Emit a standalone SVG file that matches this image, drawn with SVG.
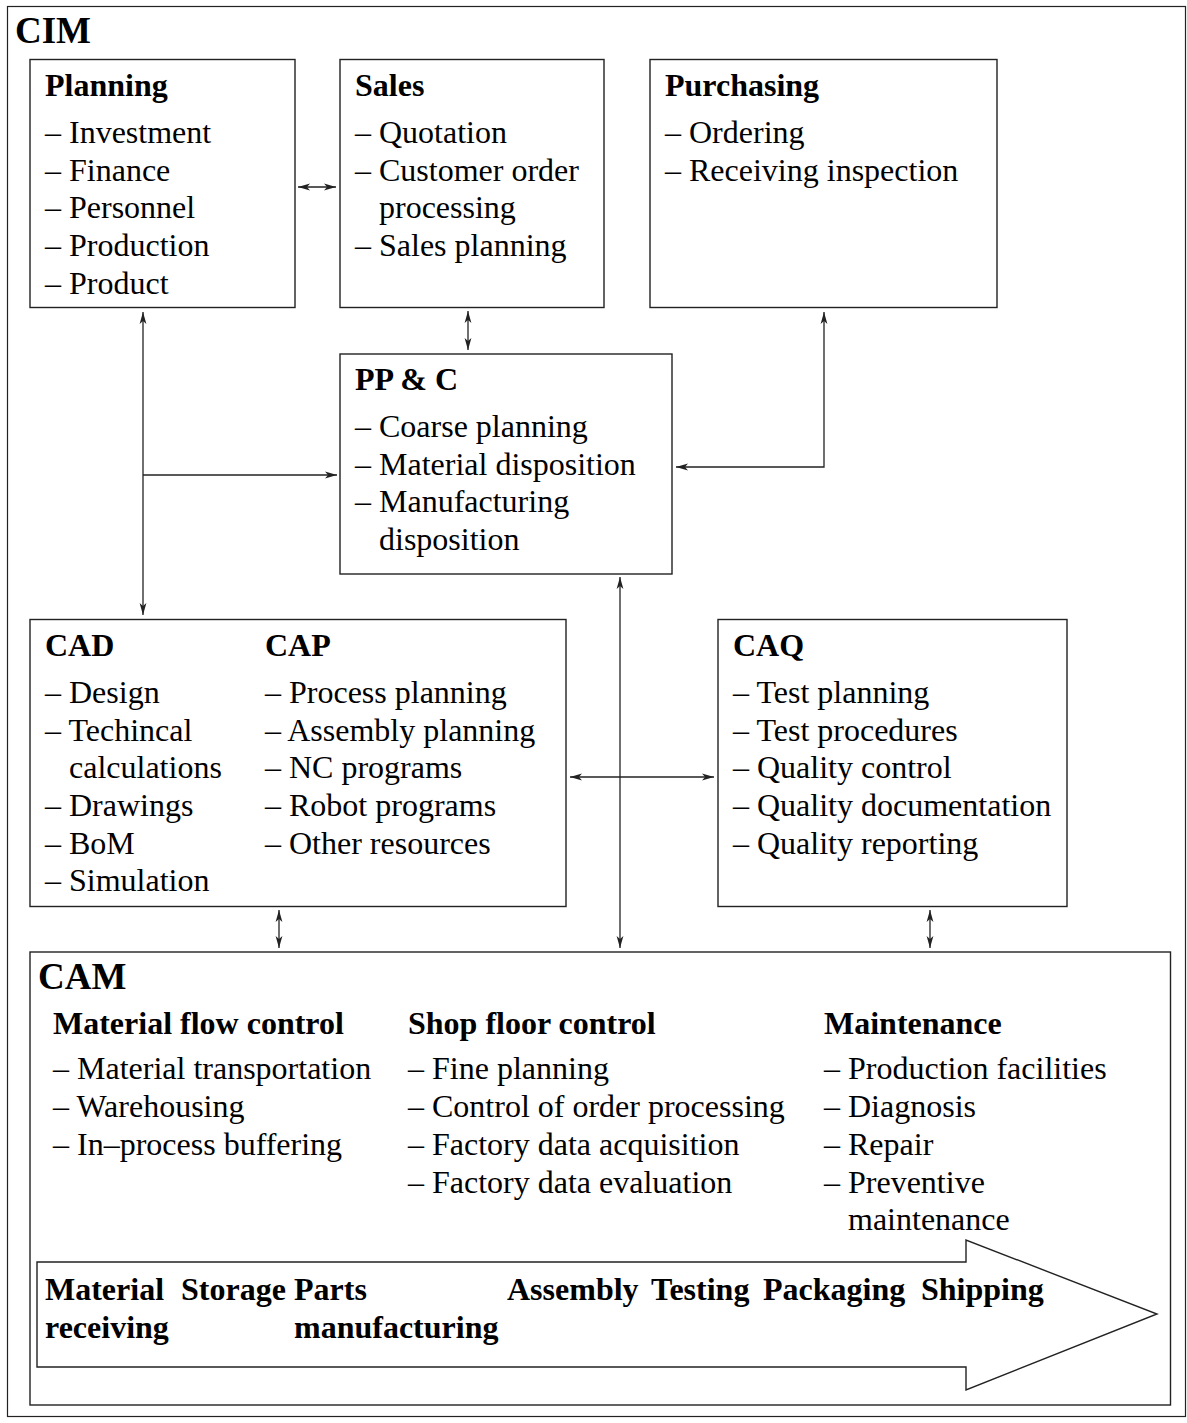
<svg xmlns="http://www.w3.org/2000/svg" width="1187" height="1423" viewBox="0 0 1187 1423">
<style>
  .box { fill: #fff; stroke: #222; stroke-width: 1.4; }
  .frame { fill: #fff; stroke: #222; stroke-width: 1.2; }
  .t { font-family: "Liberation Serif", "Times New Roman", serif; font-size: 32px; fill: #000; }
  .b { font-family: "Liberation Serif", "Times New Roman", serif; font-size: 32px; font-weight: bold; fill: #000; }
  .big { font-family: "Liberation Serif", "Times New Roman", serif; font-size: 37px; font-weight: bold; fill: #000; }
  .c { fill: none; stroke: #222; stroke-width: 1.3; }
</style>
<defs>
  <marker id="ah" viewBox="0 0 12 8" refX="12" refY="4" markerWidth="12" markerHeight="8" markerUnits="userSpaceOnUse" orient="auto-start-reverse">
    <path d="M12,4 L0,0.6 L3,4 L0,7.4 z" fill="#222"/>
  </marker>
</defs>
<rect width="1187" height="1423" fill="#fff"/>
<g id="cim">
  <rect class="frame" x="7.5" y="6.5" width="1178" height="1410"/>
  <text class="big" x="15" y="43">CIM</text>
</g>
<g id="planning">
  <rect class="box" x="30" y="59.5" width="265" height="248"/>
  <text class="b" x="45" y="96">Planning</text>
  <text class="t" x="45" y="143">– Investment</text>
  <text class="t" x="45" y="181">– Finance</text>
  <text class="t" x="45" y="218">– Personnel</text>
  <text class="t" x="45" y="256">– Production</text>
  <text class="t" x="45" y="294">– Product</text>
</g>
<g id="sales">
  <rect class="box" x="340" y="59.5" width="264" height="248"/>
  <text class="b" x="355" y="96">Sales</text>
  <text class="t" x="355" y="143">– Quotation</text>
  <text class="t" x="355" y="181">– Customer order</text>
  <text class="t" x="379" y="218">processing</text>
  <text class="t" x="355" y="256">– Sales planning</text>
</g>
<g id="purchasing">
  <rect class="box" x="650" y="59.5" width="347" height="248"/>
  <text class="b" x="665" y="96">Purchasing</text>
  <text class="t" x="665" y="143">– Ordering</text>
  <text class="t" x="665" y="181">– Receiving inspection</text>
</g>
<g id="ppc">
  <rect class="box" x="340" y="354" width="332" height="220"/>
  <text class="b" x="355" y="390">PP &amp; C</text>
  <text class="t" x="355" y="437">– Coarse planning</text>
  <text class="t" x="355" y="475">– Material disposition</text>
  <text class="t" x="355" y="512">– Manufacturing</text>
  <text class="t" x="379" y="550">disposition</text>
</g>
<g id="cadcap">
  <rect class="box" x="30" y="619.5" width="536" height="287"/>
  <text class="b" x="45" y="656">CAD</text>
  <text class="t" x="45" y="703">– Design</text>
  <text class="t" x="45" y="741">– Techincal</text>
  <text class="t" x="69" y="778">calculations</text>
  <text class="t" x="45" y="816">– Drawings</text>
  <text class="t" x="45" y="854">– BoM</text>
  <text class="t" x="45" y="891">– Simulation</text>
  <text class="b" x="265" y="656">CAP</text>
  <text class="t" x="265" y="703">– Process planning</text>
  <text class="t" x="265" y="741">– Assembly planning</text>
  <text class="t" x="265" y="778">– NC programs</text>
  <text class="t" x="265" y="816">– Robot programs</text>
  <text class="t" x="265" y="854">– Other resources</text>
</g>
<g id="caq">
  <rect class="box" x="718" y="619.5" width="349" height="287"/>
  <text class="b" x="733" y="656">CAQ</text>
  <text class="t" x="733" y="703">– Test planning</text>
  <text class="t" x="733" y="741">– Test procedures</text>
  <text class="t" x="733" y="778">– Quality control</text>
  <text class="t" x="733" y="816">– Quality documentation</text>
  <text class="t" x="733" y="854">– Quality reporting</text>
</g>
<g id="cam">
  <rect class="box" x="30" y="952" width="1140.5" height="453"/>
  <text class="big" x="38" y="989">CAM</text>
  <text class="b" x="53" y="1034">Material flow control</text>
  <text class="t" x="53" y="1079">– Material transportation</text>
  <text class="t" x="53" y="1117">– Warehousing</text>
  <text class="t" x="53" y="1155">– In–process buffering</text>
  <text class="b" x="408" y="1034">Shop floor control</text>
  <text class="t" x="408" y="1079">– Fine planning</text>
  <text class="t" x="408" y="1117">– Control of order processing</text>
  <text class="t" x="408" y="1155">– Factory data acquisition</text>
  <text class="t" x="408" y="1193">– Factory data evaluation</text>
  <text class="b" x="824" y="1034">Maintenance</text>
  <text class="t" x="824" y="1079">– Production facilities</text>
  <text class="t" x="824" y="1117">– Diagnosis</text>
  <text class="t" x="824" y="1155">– Repair</text>
  <text class="t" x="824" y="1193">– Preventive</text>
  <text class="t" x="848" y="1230">maintenance</text>
</g>
<g id="flow">
  <polygon class="box" points="37,1262 966,1262 966,1240 1157,1314 966,1390 966,1367 37,1367"/>
  <text class="b" x="45" y="1300">Material</text>
  <text class="b" x="45" y="1338">receiving</text>
  <text class="b" x="181" y="1300">Storage</text>
  <text class="b" x="294" y="1300">Parts</text>
  <text class="b" x="294" y="1338">manufacturing</text>
  <text class="b" x="507" y="1300">Assembly</text>
  <text class="b" x="651" y="1300">Testing</text>
  <text class="b" x="763" y="1300">Packaging</text>
  <text class="b" x="921" y="1300">Shipping</text>
</g>
<g id="connectors">
  <line class="c" x1="298" y1="187" x2="336" y2="187" marker-start="url(#ah)" marker-end="url(#ah)"/>
  <line class="c" x1="468" y1="311" x2="468" y2="350" marker-start="url(#ah)" marker-end="url(#ah)"/>
  <line class="c" x1="143" y1="312" x2="143" y2="615" marker-start="url(#ah)" marker-end="url(#ah)"/>
  <line class="c" x1="143" y1="475" x2="337" y2="475" marker-end="url(#ah)"/>
  <polyline class="c" points="824,312 824,467 676,467" marker-start="url(#ah)" marker-end="url(#ah)"/>
  <line class="c" x1="620" y1="577" x2="620" y2="948" marker-start="url(#ah)" marker-end="url(#ah)"/>
  <line class="c" x1="279" y1="910" x2="279" y2="948" marker-start="url(#ah)" marker-end="url(#ah)"/>
  <line class="c" x1="930" y1="910" x2="930" y2="948" marker-start="url(#ah)" marker-end="url(#ah)"/>
  <line class="c" x1="570" y1="777" x2="714" y2="777" marker-start="url(#ah)" marker-end="url(#ah)"/>
</g>
</svg>
